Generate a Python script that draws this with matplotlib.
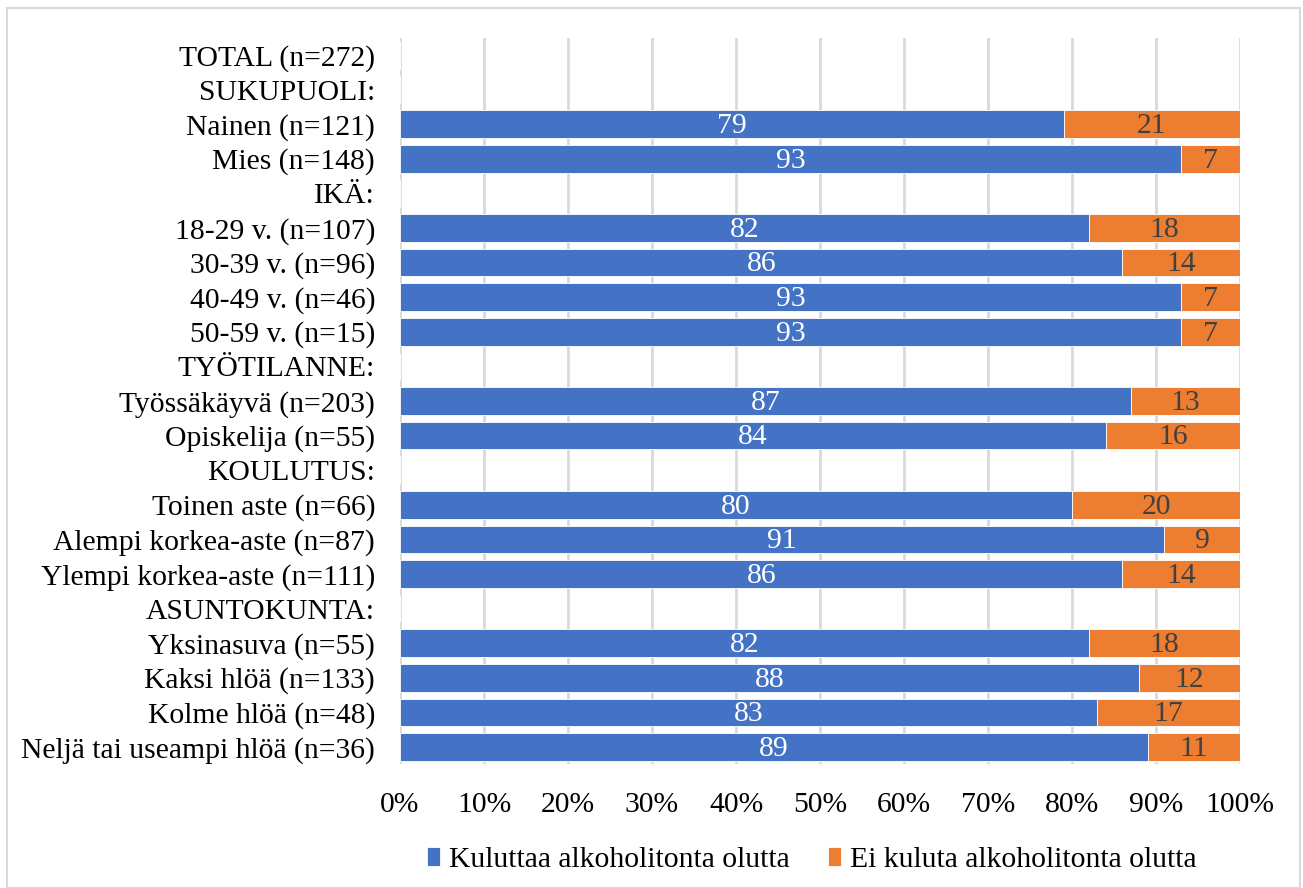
import numpy as np
import matplotlib.pyplot as plt
from matplotlib.patches import Rectangle

plt.rcParams['font.family'] = ['Liberation Serif', 'DejaVu Serif']

categories = ['TOTAL (n=272)', 'SUKUPUOLI:', 'Nainen (n=121)', 'Mies (n=148)',
              'IKÄ:', '18-29 v. (n=107)', '30-39 v. (n=96)', '40-49 v. (n=46)',
              '50-59 v. (n=15)', 'TYÖTILANNE:', 'Työssäkäyvä (n=203)',
              'Opiskelija (n=55)', 'KOULUTUS:', 'Toinen aste (n=66)',
              'Alempi korkea-aste (n=87)', 'Ylempi korkea-aste (n=111)',
              'ASUNTOKUNTA:', 'Yksinasuva (n=55)', 'Kaksi hlöä (n=133)',
              'Kolme hlöä (n=48)', 'Neljä tai useampi hlöä (n=36)']
kuluttaa = [np.nan, np.nan, 79, 93, np.nan, 82, 86, 93, 93, np.nan, 87, 84,
            np.nan, 80, 91, 86, np.nan, 82, 88, 83, 89]
ei_kuluta = [np.nan, np.nan, 21, 7, np.nan, 18, 14, 7, 7, np.nan, 13, 16,
             np.nan, 20, 9, 14, np.nan, 18, 12, 17, 11]
series_names = ['Kuluttaa alkoholitonta olutta', 'Ei kuluta alkoholitonta olutta']

blue = '#4472C4'
orange = '#ED7D31'
fs = 21.3

fig = plt.figure(figsize=(13.03, 8.88), dpi=100)
ax = fig.add_axes([0.307, 0.1393, 0.6447, 0.8182])

y = np.arange(len(categories))
k = np.array(kuluttaa, dtype=float)
e = np.array(ei_kuluta, dtype=float)
b1 = ax.barh(y, np.nan_to_num(k), height=0.8, color=blue, label=series_names[0],
             edgecolor='white', linewidth=0.6, zorder=3)
b2 = ax.barh(y, np.nan_to_num(e), left=np.nan_to_num(k), height=0.8, color=orange,
             label=series_names[1], edgecolor='white', linewidth=0.6, zorder=3)

for i in range(len(categories)):
    if not np.isnan(k[i]):
        ax.text(k[i] / 2, y[i] + 0.05, '%d' % k[i], ha='center', va='center',
                color='white', fontsize=fs, zorder=4)
        ax.text(k[i] + e[i] / 2, y[i] + 0.05, '%d' % e[i], ha='center', va='center',
                color='#404040', fontsize=fs, zorder=4)

ax.set_xlim(0, 100)
ax.set_ylim(len(categories) - 0.5, -0.5)
ax.set_yticks(y)
ax.set_yticklabels(categories, fontsize=fs)
ax.set_xticks(np.arange(0, 101, 10))
ax.set_xticklabels(['%d%%' % v for v in range(0, 101, 10)], fontsize=fs)
ax.tick_params(length=0)
ax.tick_params(axis='y', pad=18)
ax.tick_params(axis='x', pad=20)
ax.xaxis.grid(True, color='#D9D9D9', linewidth=2, zorder=0)
ax.set_axisbelow(True)
for s in ax.spines.values():
    s.set_visible(False)

leg = fig.legend(handles=[b1, b2], loc='center', bbox_to_anchor=(0.623, 0.032),
                 ncol=2, frameon=False, fontsize=fs, handlelength=0.45,
                 handleheight=0.6, handletextpad=0.3, columnspacing=1.3,
                 borderpad=0)

fig.patches.append(Rectangle((7 / 1303, 0), 1293 / 1303, 1 - 8 / 888,
                             transform=fig.transFigure, fill=False,
                             edgecolor='#D9D9D9', linewidth=1.5))

fig.savefig('out.png', dpi=100)
